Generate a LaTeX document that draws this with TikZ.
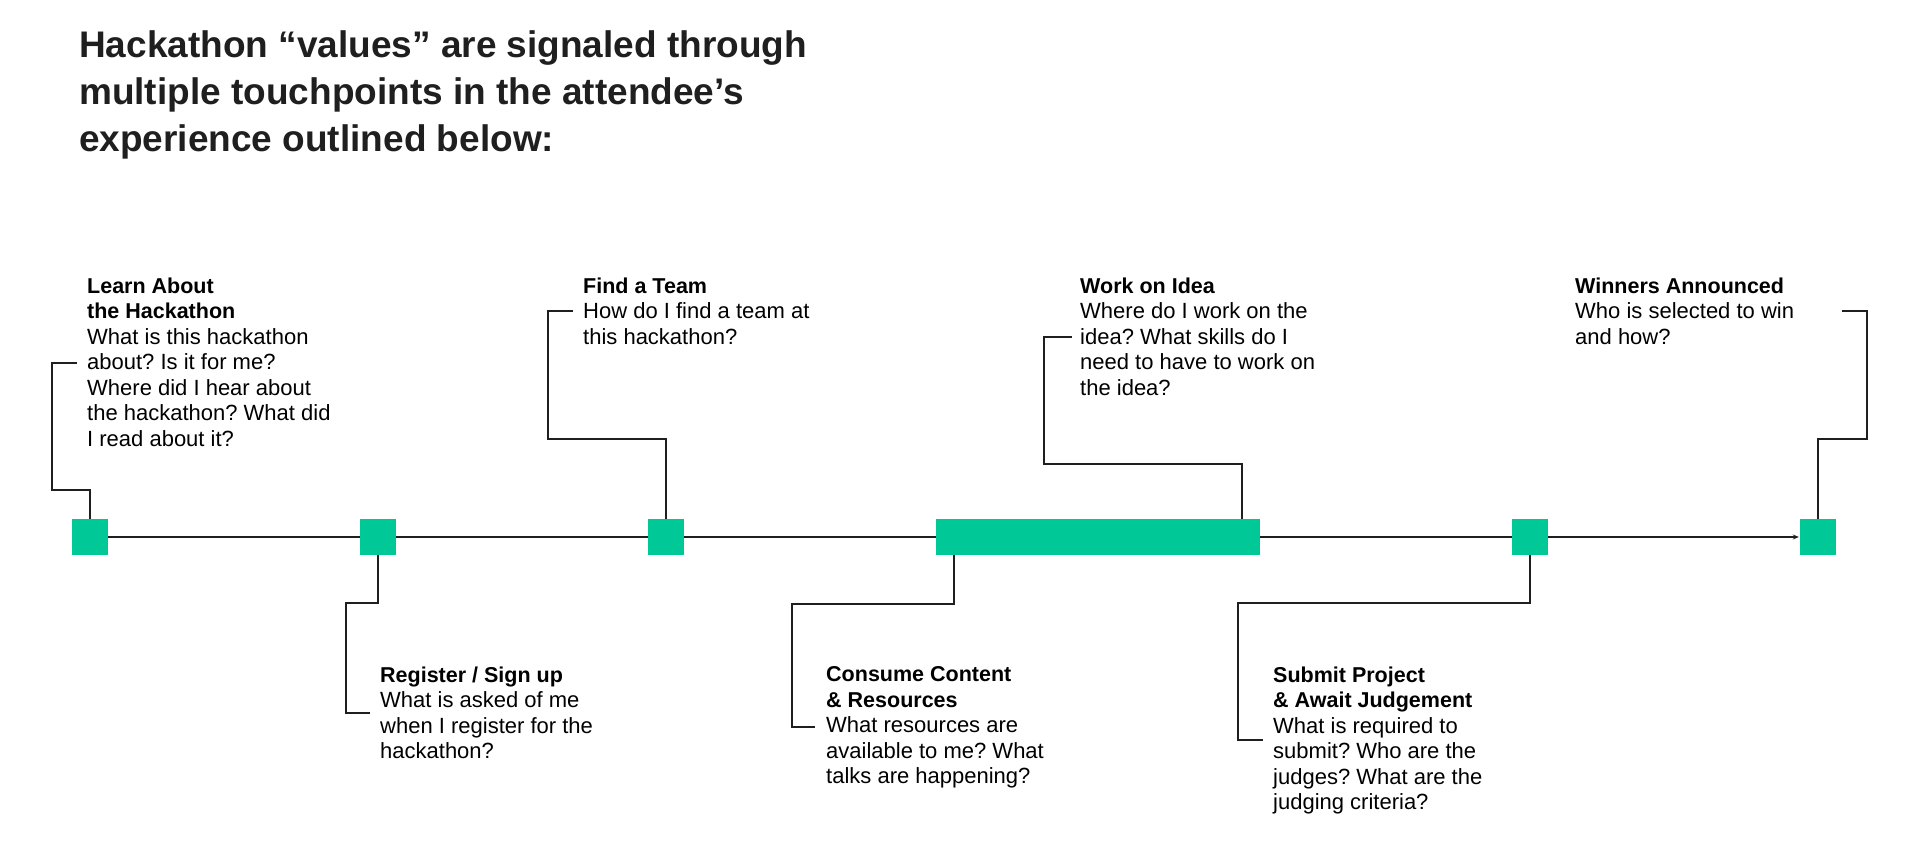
\documentclass[tikz,border=0pt]{standalone}
\usepackage{fontspec}
\setmainfont{Liberation Sans}
\usetikzlibrary{arrows.meta, positioning, calc, backgrounds}
\definecolor{mainGreen}{RGB}{0,201,151}
\definecolor{mainBlack}{gray}{0.12}
\newcommand{\stephead}[1]{{\fontsize{21.5}{25.5}\selectfont\bfseries #1}}
\frenchspacing

\begin{document}
\begin{tikzpicture}[x=1pt, y=-1pt, >=Stealth,
    stop/.style={fill=mainGreen, minimum size=36pt, inner sep=0pt},
    link/.style={mainBlack, line width=1.1pt},
    info/.style={anchor=north west, align=left, inner sep=0pt, text=black,
        font=\fontsize{22}{25.5}\selectfont}]
    \useasboundingbox (0,0) rectangle (1914,845);

    % title
    \node[anchor=north west, align=left, inner sep=0pt, text=mainBlack,
        font=\fontsize{37}{47}\selectfont\bfseries] (title) at (79,30)
        {Hackathon “values” are signaled through\\multiple touchpoints in the attendee’s\\experience outlined below:};

    % stops on the timeline
    \node[stop] (s1) at (90,537) {};
    \node[stop] (s2) at (378,537) {};
    \node[stop] (s3) at (666,537) {};
    \node[stop] (s4) at (954,537) {};
    \node[stop] (s5) at (1242,537) {};
    \node[stop] (s6) at (1530,537) {};
    \node[stop] (s7) at (1818,537) {};
    \fill[mainGreen] (s4.north west) rectangle (s5.south east);

    \begin{scope}[on background layer]
        \draw[link, -{Stealth[length=6pt, width=5pt]}, shorten >=1pt] (s1.east) -- (s7.west);
    \end{scope}

    % texts
    \node[info] (learn) at (87,277.4) {\stephead{Learn About}\\\stephead{the Hackathon}\\What is this hackathon\\about? Is it for me?\\Where did I hear about\\the hackathon? What did\\I read about it?};
    \node[info] (register) at (380,666.4) {\stephead{Register / Sign up}\\What is asked of me\\when I register for the\\hackathon?};
    \node[info] (team) at (583,277.4) {\stephead{Find a Team}\\How do I find a team at\\this hackathon?};
    \node[info] (consume) at (826,666.4) {\stephead{Consume Content}\\\stephead{\& Resources}\\What resources are\\available to me? What\\talks are happening?};
    \node[info] (idea) at (1080,277.4) {\stephead{Work on Idea}\\Where do I work on the\\idea? What skills do I\\need to have to work on\\the idea?};
    \node[info] (submit) at (1273,666.4) {\stephead{Submit Project}\\\stephead{\& Await Judgement}\\What is required to\\submit? Who are the\\judges? What are the\\judging criteria?};
    \node[info] (winners) at (1575,277.4) {\stephead{Winners Announced}\\Who is selected to win\\and how?};

    % connectors
    \coordinate (learn in) at (77,363);
    \coordinate (register in) at (370,713);
    \coordinate (team in) at (573,311);
    \coordinate (consume in) at (815,727);
    \coordinate (idea in) at (1072,337);
    \coordinate (submit in) at (1263,740);
    \coordinate (winners in) at (1842,311);

    \draw[link] (s1.north) |- (52,490) |- (learn in);
    \draw[link] (s2.south) |- (346,603) |- (register in);
    \draw[link] (s3.north) |- (548,439) |- (team in);
    \draw[link] (s4.south) |- (792,604) |- (consume in);
    \draw[link] (s5.north) |- (1044,464) |- (idea in);
    \draw[link] (s6.south) |- (1238,603) |- (submit in);
    \draw[link] (s7.north) |- (1867,439) |- (winners in);
\end{tikzpicture}
\end{document}
